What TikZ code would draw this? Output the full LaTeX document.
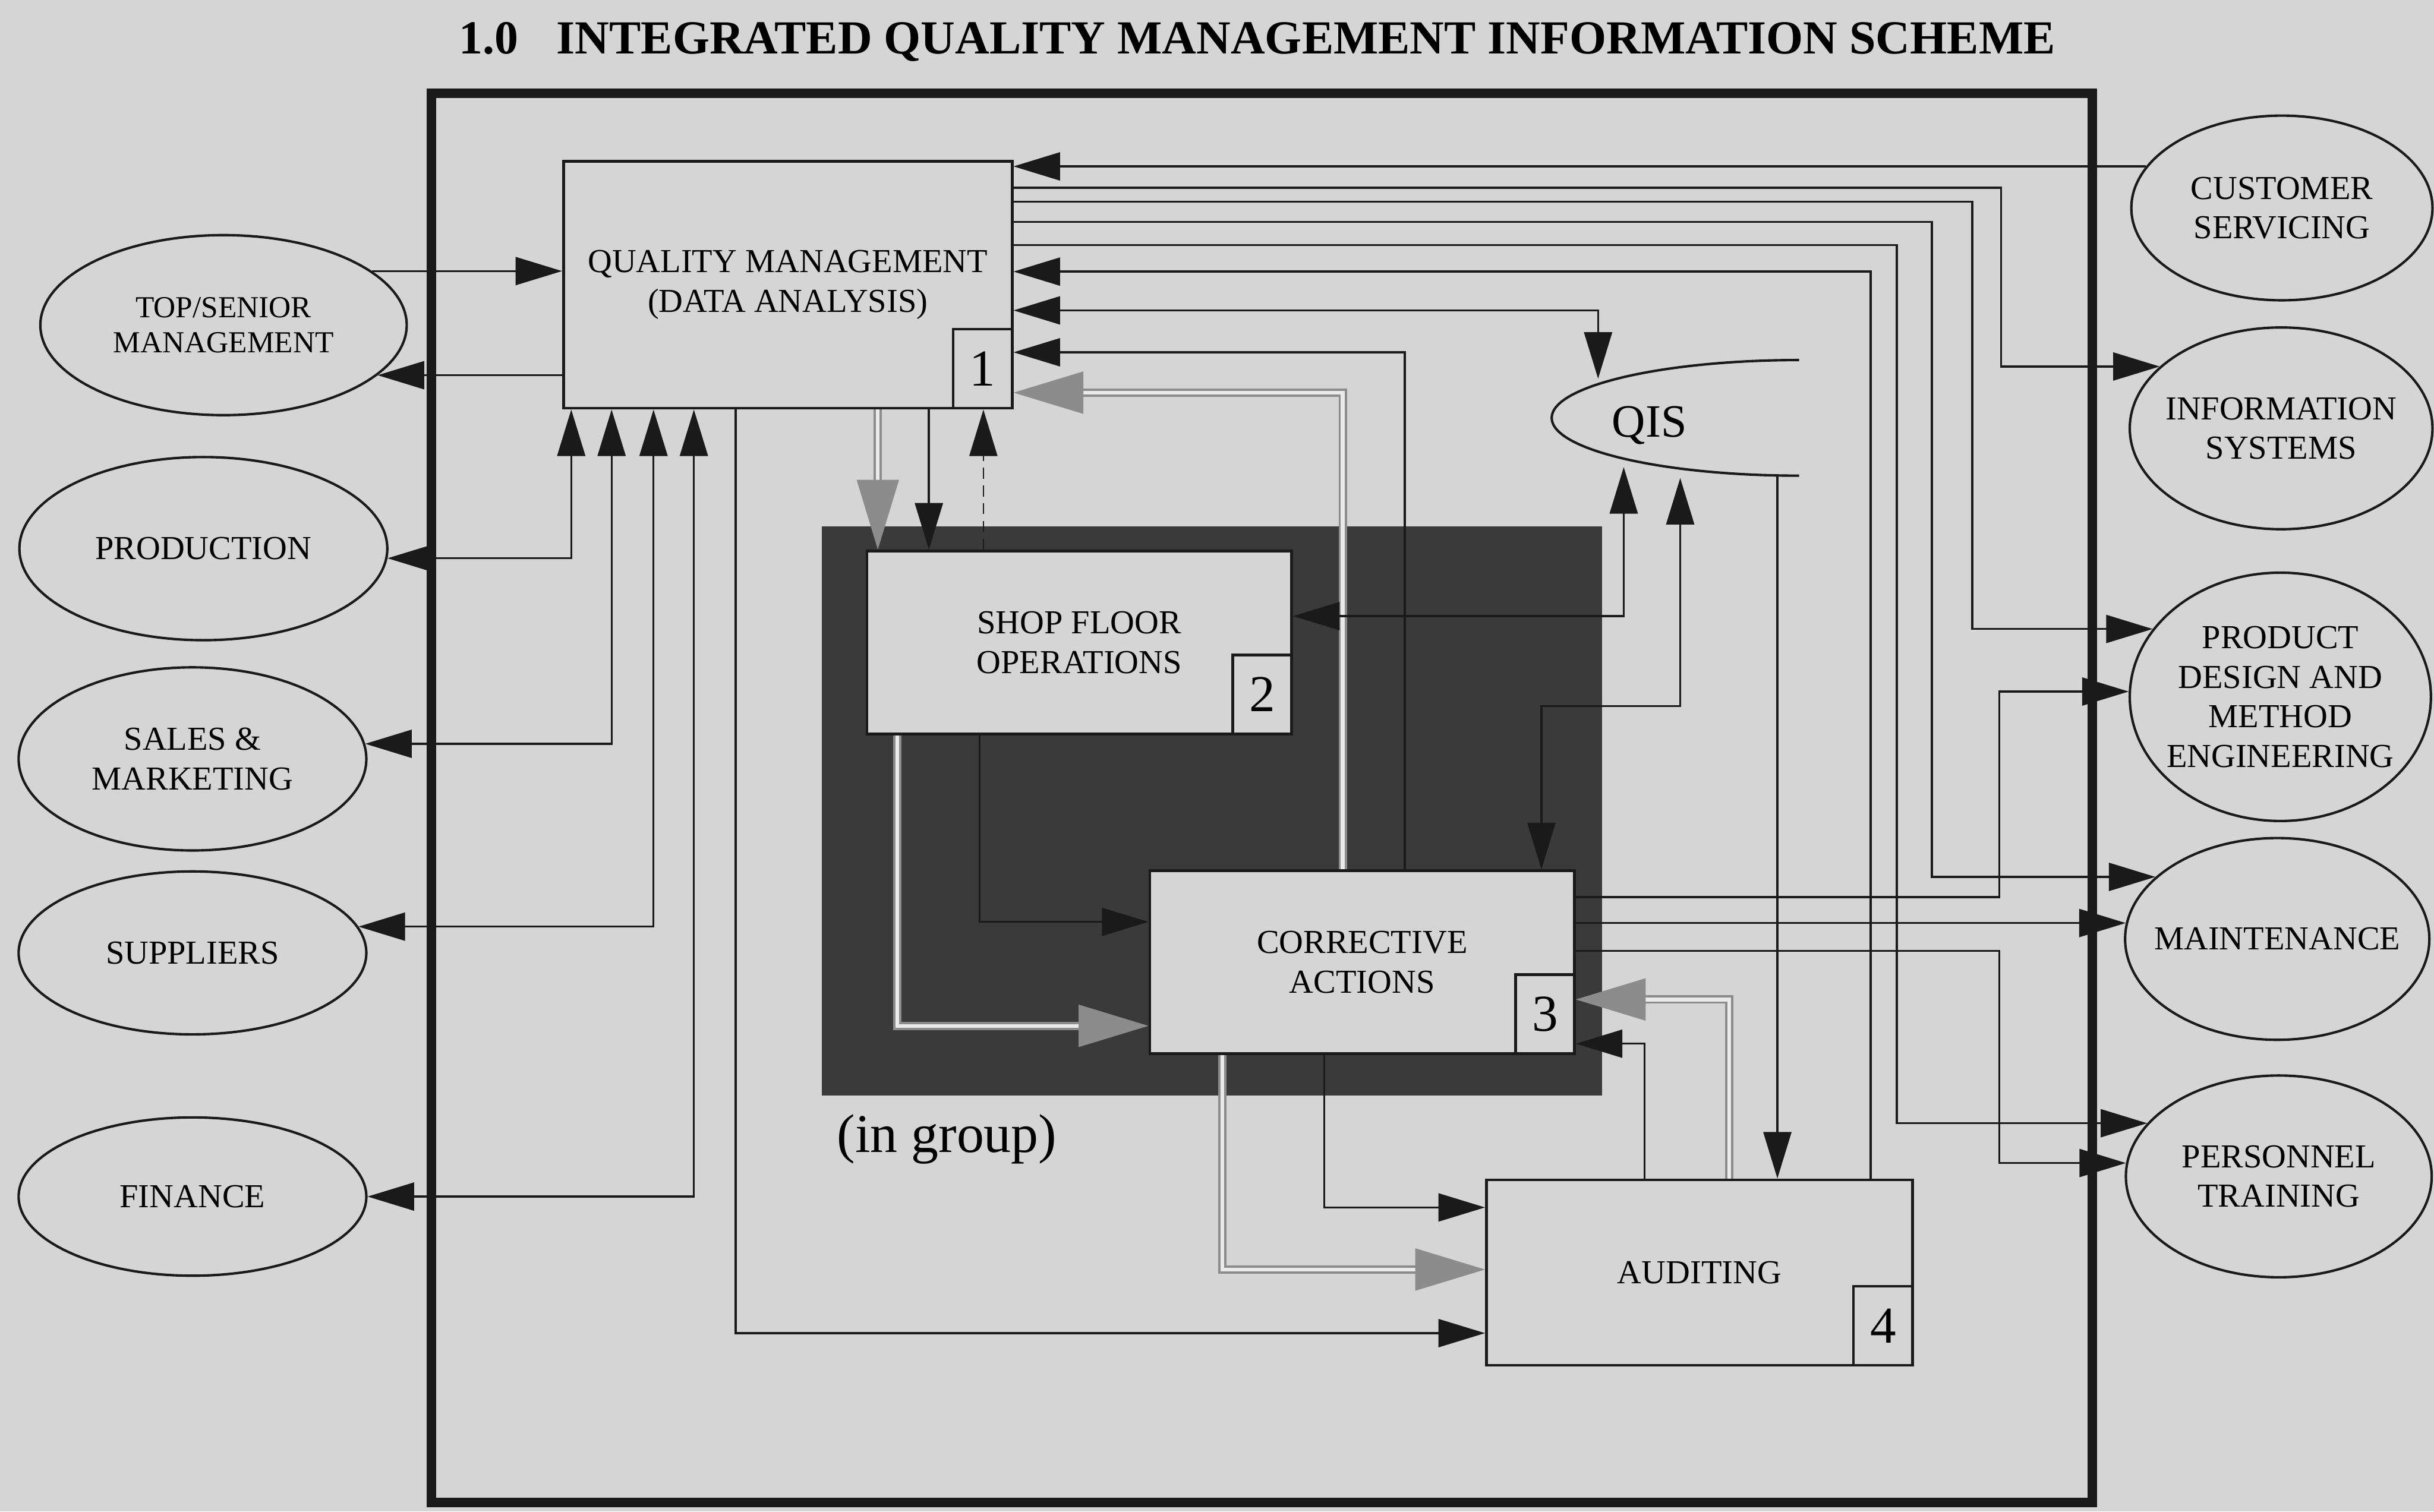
\documentclass[tikz,border=0pt]{standalone}
\usepackage{fontspec}
\setmainfont{Liberation Serif}
\usepackage{xcolor}
\usepackage{tikz}
\usetikzlibrary{shapes.geometric,arrows.meta,positioning,calc}
\definecolor{paper}{HTML}{D5D5D5}
\definecolor{groupdark}{HTML}{3A3A3A}
\definecolor{flowgray}{HTML}{8C8C8C}
\definecolor{inkblack}{HTML}{1A1A1A}

\begin{document}
\begin{tikzpicture}[x=0.2mm,y=-0.2mm,
  box/.style={rectangle,draw=inkblack,line width=1pt,fill=paper,minimum width=54.7mm,minimum height=23.6mm,align=center,inner sep=0pt,font=\fontsize{12.3}{14.5}\selectfont},
  numbox/.style={rectangle,draw=inkblack,line width=1pt,fill=paper,minimum width=7.6mm,minimum height=10.2mm,inner sep=0pt,anchor=south east,font=\fontsize{19}{19}\selectfont},
  party/.style={ellipse,draw=inkblack,line width=0.9pt,inner sep=0pt},
  ptext/.style={align=center,inner sep=0pt,font=\fontsize{12.3}{14.5}\selectfont},
  arr/.style={-{Triangle[length=6mm,width=3.6mm]},line width=0.75pt,draw=inkblack},
  darr/.style={{Triangle[length=6mm,width=3.6mm]}-{Triangle[length=6mm,width=3.6mm]},line width=0.75pt,draw=inkblack},
  garr/.style={-{Triangle[length=9mm,width=5.4mm,color=flowgray]},draw=flowgray,line width=0.8pt,double=paper!50,double distance=1.4pt}
]
\useasboundingbox (0,0) rectangle (1568,974);
\fill[paper] (0,0) rectangle (1568,974);
\node[font=\fontsize{17.4}{17.4}\selectfont\bfseries] (title) at (810,27) {1.0\hspace{0.8em}INTEGRATED QUALITY MANAGEMENT INFORMATION SCHEME};
\draw[line width=3.5pt,draw=inkblack] (278,60) rectangle (1348,968);

% group of shop floor and corrective actions
\node[fill=groupdark,minimum width=100.5mm,minimum height=73.4mm,inner sep=0pt] (grp) at (780.75,522.5) {};
\node[font=\fontsize{20}{20}\selectfont] (ingrp) at (610,734) {(in group)};

% functions
\node[box,minimum width=57.8mm,minimum height=31.8mm] (qm) at (507.5,183.5) {QUALITY MANAGEMENT\\(DATA ANALYSIS)};
\node[numbox] (n1) at (qm.south east) {1};
\node[box] (sfo) at (695.3,414) {SHOP FLOOR\\OPERATIONS};
\node[numbox] (n2) at (sfo.south east) {2};
\node[box] (ca) at (877.5,620) {CORRECTIVE\\ACTIONS};
\node[numbox] (n3) at (ca.south east) {3};
\node[box,minimum width=54.9mm,minimum height=23.9mm] (aud) at (1094.8,820) {AUDITING};
\node[numbox] (n4) at (aud.south east) {4};

% departments
\node[party,minimum width=47.2mm,minimum height=23.2mm,label={[ptext,font=\fontsize{11.2}{13}\selectfont]center:{TOP/SENIOR\\MANAGEMENT}}] (topm) at (144,209.5) {};
\node[party,minimum width=47.4mm,minimum height=23.6mm,label={[ptext]center:PRODUCTION}] (prod) at (131,353.5) {};
\node[party,minimum width=44.8mm,minimum height=23.6mm,label={[ptext]center:{SALES \&\\MARKETING}}] (sales) at (124,489) {};
\node[party,minimum width=44.8mm,minimum height=21mm,label={[ptext]center:SUPPLIERS}] (supp) at (124,614) {};
\node[party,minimum width=44.8mm,minimum height=20.4mm,label={[ptext]center:FINANCE}] (fin) at (124,771) {};
\node[party,minimum width=38.8mm,minimum height=23.8mm,label={[ptext]center:{CUSTOMER\\SERVICING}}] (cust) at (1470,134) {};
\node[party,minimum width=39mm,minimum height=26mm,label={[ptext]center:{INFORMATION\\SYSTEMS}}] (infosys) at (1469.5,276) {};
\node[party,minimum width=38.8mm,minimum height=32mm,label={[ptext]center:{PRODUCT\\DESIGN AND\\METHOD\\ENGINEERING}}] (pdme) at (1469,449) {};
\node[party,minimum width=39.2mm,minimum height=26mm,label={[ptext]center:MAINTENANCE}] (maint) at (1467,605) {};
\node[party,minimum width=39.4mm,minimum height=26mm,label={[ptext]center:{PERSONNEL\\TRAINING}}] (ptrain) at (1468,758) {};

% quality information system
\draw[line width=0.9pt,draw=inkblack] (1159,232) arc[start angle=90,end angle=270,x radius=31.88mm,y radius=7.45mm];
\node[font=\fontsize{17}{17}\selectfont] (qis) at (1062.6,274) {QIS};
\coordinate (qist) at (1029.5,244);
\coordinate (qisb1) at (1046,301);
\coordinate (qisb2) at (1082.4,308);
\coordinate (qise) at (1145,306.5);

% lanes and bends
\coordinate (lP1) at (368,300);
\coordinate (lP2) at (394,300);
\coordinate (lP3) at (421,300);
\coordinate (lP4) at (447,300);
\coordinate (lG1) at (565.5,300);
\coordinate (lB1) at (598.4,300);
\coordinate (lD1) at (633.5,300);
\coordinate (cIS) at (1289,121);
\coordinate (cPD) at (1270.5,130);
\coordinate (cMA) at (1244.5,143);
\coordinate (cPT) at (1222,158);
\coordinate (cAU) at (1205,175);
\coordinate (cQI) at (1029.5,200);
\coordinate (cCB) at (905,227);
\coordinate (cCG) at (865,253);
\coordinate (cC1) at (1288,578);
\coordinate (cC3) at (1288,612.6);
\coordinate (cSQ) at (1046,397);
\coordinate (cCQ) at (993,455);
\coordinate (cSC) at (631,594);
\coordinate (cSG) at (578,661);
\coordinate (cCA) at (853,778);
\coordinate (cGA) at (787.5,818);
\coordinate (cQA) at (474,859);
\coordinate (cAC) at (1059.5,672.5);
\coordinate (cAG) at (1114,644);

% left side
\draw[arr] (topm.20) -- (topm.20 -| qm.west);
\draw[arr] (qm.west |- topm.-18) -- (topm.-18);
\draw[darr] (prod.-3) -| (qm.south -| lP1);
\draw[darr] (sales.5) -| (qm.south -| lP2);
\draw[darr] (supp.9) -| (qm.south -| lP3);
\draw[darr] (fin.east) -| (qm.south -| lP4);

% right side of quality management
\draw[arr] (cust.163) -- (cust.163 -| qm.east);
\draw[arr] (qm.east |- cIS) -- (cIS) |- (infosys.153);
\draw[arr] (qm.east |- cPD) -- (cPD) |- (pdme.152);
\draw[arr] (qm.east |- cMA) -- (cMA) |- (maint.153);
\draw[arr] (qm.east |- cPT) -- (cPT) |- (ptrain.158);
\draw[arr] (aud.north -| cAU) -- (cAU) -- (qm.east |- cAU);
\draw[darr] (qm.east |- cQI) -- (cQI) -- (qist);
\draw[arr] (ca.north -| cCB) -- (cCB) -- (qm.east |- cCB);
\draw[garr] (ca.north -| cCG) -- (cCG) -- (qm.east |- cCG);

% shop floor
\draw[garr] (qm.south -| lG1) -- (sfo.north -| lG1);
\draw[arr] (qm.south -| lB1) -- (sfo.north -| lB1);
\draw[arr,line width=0.6pt,dash pattern=on 4pt off 2.5pt] (sfo.north -| lD1) -- (qm.south -| lD1);
\draw[darr] (sfo.east |- cSQ) -- (cSQ) -- (qisb1);
\draw[arr] (sfo.south -| cSC) -- (cSC) -- (ca.west |- cSC);
\draw[garr] (sfo.south -| cSG) -- (cSG) -- (ca.west |- cSG);

% corrective actions
\draw[darr] (qisb2) |- (cCQ) -- (ca.north -| cCQ);
\draw[arr] (ca.east |- cC1) -- (cC1) |- (pdme.178);
\draw[arr] (ca.east |- maint.174) -- (maint.174);
\draw[arr] (ca.east |- cC3) -- (cC3) |- (ptrain.175);
\draw[arr] (ca.south -| cCA) -- (cCA) -- (aud.west |- cCA);
\draw[garr] (ca.south -| cGA) -- (cGA) -- (aud.west |- cGA);

% auditing
\draw[arr] (qm.south -| cQA) -- (cQA) -- (aud.west |- cQA);
\draw[arr] (aud.north -| cAC) -- (cAC) -- (ca.east |- cAC);
\draw[garr] (aud.north -| cAG) -- (cAG) -- (ca.east |- cAG);
\draw[arr] (qise) -- (aud.north -| qise);
\end{tikzpicture}
\end{document}
